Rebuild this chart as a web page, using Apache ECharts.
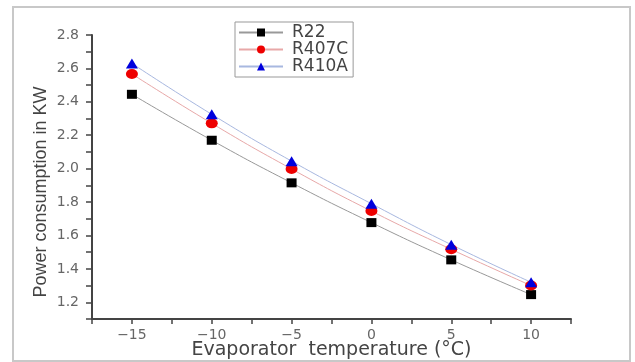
<!DOCTYPE html>
<html><head><meta charset="utf-8">
<script src="https://cdn.jsdelivr.net/npm/echarts@6/dist/echarts.min.js"></script>
<style>html,body{margin:0;padding:0;background:#fff}#c{width:635px;height:362px}</style>
</head><body><div id="c"></div>
<script>
const temps = [-15, -10, -5, 0, 5, 10];
const r22 = [2.445, 2.17, 1.915, 1.677, 1.454, 1.246];
const r407c = [2.567, 2.271, 1.998, 1.746, 1.517, 1.30];
const r410a = [2.63, 2.325, 2.045, 1.79, 1.545, 1.32];
const seriesNames = ['R22', 'R407C', 'R410A'];
const font = 'DejaVu Sans, sans-serif';
const chart = echarts.init(document.getElementById('c'));
function pts(v){ return temps.map((t,i)=>[t, v[i]]); }
function mk(name, data, sym, symSize, col, lineCol){
  return {name, type:'line', data:pts(data), symbol:sym, symbolSize:symSize, smooth:true,
    itemStyle:{color:col}, lineStyle:{color:lineCol, width:1}, z:3};
}
chart.setOption({
  animation:false,
  backgroundColor:'#fff',
  graphic:[{type:'rect', shape:{x:13, y:7, width:617, height:354}, style:{fill:'none', stroke:'#c8c8c8', lineWidth:2}}],
  grid:{left:92, top:35, right:64, bottom:43, outerBoundsMode:'none', containLabel:false},
  legend:{left:235, top:22, orient:'vertical', itemGap:0, itemWidth:44, itemHeight:10,
    padding:[2,5,2,3], borderColor:'#999', borderWidth:1,
    textStyle:{fontFamily:font, fontSize:17, lineHeight:16, color:'#444', padding:[0,0,0,4]},
    data:seriesNames},
  xAxis:{type:'value', min:-17.5, max:12.5, interval:2.5,
    name:'Evaporator  temperature (°C)', nameLocation:'middle', nameGap:22, nameMoveOverlap:false,
    nameTextStyle:{fontFamily:font, fontSize:19, color:'#444'},
    axisLine:{onZero:false, lineStyle:{color:'#444', width:2}},
    axisTick:{show:true, length:5, lineStyle:{color:'#444', width:1.5}},
    axisLabel:{fontFamily:font, fontSize:14, color:'#666', margin:9,
      formatter:v=> (Math.abs(v%5)<1e-9 ? (v<0?'\u2212'+(-v):String(v)) : '')},
    splitLine:{show:false}},
  yAxis:{type:'value', min:1.1, max:2.8, interval:0.1,
    name:'Power consumption in KW', nameLocation:'middle', nameGap:42, nameMoveOverlap:false,
    nameTextStyle:{fontFamily:'Liberation Sans, Arial, sans-serif', fontSize:18, color:'#444', padding:[0,30,0,0]},
    axisLine:{show:true, onZero:false, lineStyle:{color:'#444', width:2}},
    axisTick:{show:true, length:6, lineStyle:{color:'#444', width:1.5}},
    axisLabel:{fontFamily:font, fontSize:14, color:'#666', margin:13,
      formatter:v=>{const r=Math.round(v*10); return (r%2===0 && r>=12) ? (r/10).toFixed(1) : '';}},
    splitLine:{show:false}},
  series:[
    mk('R22', r22, 'rect', [10,9], '#000', '#999'),
    mk('R407C', r407c, 'circle', [12,10], '#ee0000', '#e8a8a8'),
    mk('R410A', r410a, 'triangle', [12,10], '#0000dd', '#a8b8e0')
  ]
});
</script></body></html>
